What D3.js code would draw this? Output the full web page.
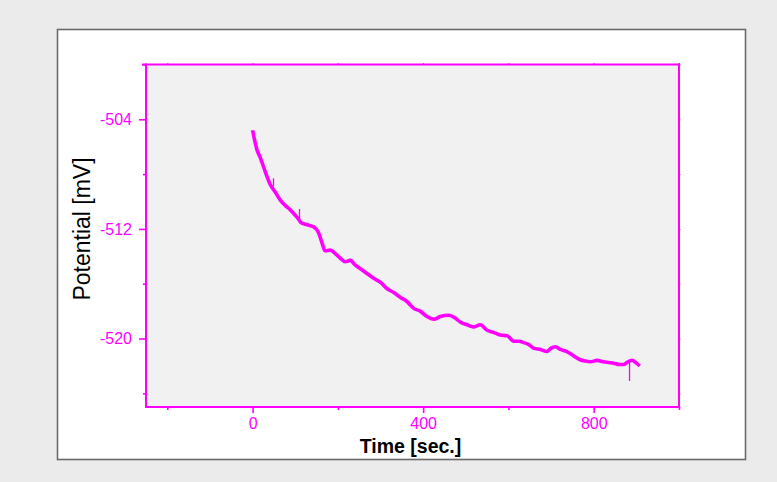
<!DOCTYPE html>
<html>
<head>
<meta charset="utf-8">
<script src="https://cdn.jsdelivr.net/npm/d3@7"></script>
<style>
  html, body { margin: 0; padding: 0; background: #ebebeb; }
  svg { display: block; }
</style>
</head>
<body>
<svg id="chart" width="777" height="482"></svg>
<script>
// Open-circuit potential recording: time (s) vs potential (mV)
const timeSec = [0, 10, 18, 26, 34, 42, 53, 65, 77, 88, 100, 108, 112, 128, 143, 155, 163, 170,
  182, 194, 206, 217, 229, 241, 257, 268, 284, 300, 315, 331, 347, 362, 378, 393, 409, 425,
  440, 460, 475, 487, 503, 518, 534, 550, 565, 581, 597, 612, 625, 636, 648, 659, 675, 690,
  700, 710, 722, 737, 750, 768, 780, 792, 808, 823, 835, 847, 860, 870, 880, 890, 900, 908];
const potentialMV = [-504.8, -506.2, -506.8, -507.5, -508.2, -508.8, -509.3, -509.9, -510.3,
  -510.6, -511.0, -511.3, -511.5, -511.7, -511.85, -512.3, -513.05, -513.6, -513.55, -513.8,
  -514.15, -514.4, -514.3, -514.65, -515.0, -515.25, -515.6, -515.9, -516.35, -516.65, -517.0,
  -517.3, -517.8, -518.0, -518.4, -518.6, -518.4, -518.3, -518.5, -518.8, -519.0, -519.15,
  -519.0, -519.4, -519.55, -519.75, -519.8, -520.2, -520.2, -520.3, -520.45, -520.7, -520.8,
  -520.95, -520.7, -520.6, -520.8, -520.95, -521.2, -521.55, -521.65, -521.7, -521.6, -521.7,
  -521.75, -521.8, -521.9, -521.9, -521.7, -521.6, -521.8, -522.0];

// Short transient spikes in the record: time, start potential, peak potential
const spikeTime = [49, 110, 884];
const spikeFrom = [-508.9, -511.3, -521.7];
const spikeTo = [-508.3, -510.55, -523.1];

// Axis ticks
const xMajorTicks = [0, 400, 800];
const xMinorTicks = [-200, 200, 600, 1000];
const yMajorTicks = [-504, -512, -520];
const yMinorTicks = [-500, -508, -516, -524];

const MAG = "#ff00ff";
const FONT = "Liberation Sans, Arial, sans-serif";
const plainNumber = d => String(d);   // ASCII hyphen for negatives
const svg = d3.select("#chart");

// Page frame
svg.append("rect").attr("x", 0).attr("y", 0).attr("width", 777).attr("height", 482).attr("fill", "#ebebeb");
svg.append("rect").attr("x", 57.5).attr("y", 29.5).attr("width", 688).attr("height", 430)
  .attr("fill", "#ffffff").attr("stroke", "#6a6a6a").attr("stroke-width", 1.6);

const plot = { left: 146, top: 64.5, right: 679, bottom: 407 };

const x = d3.scaleLinear().domain([-250, 1000]).range([plot.left, plot.right]);
const y = d3.scaleLinear().domain([-525, -500]).range([plot.bottom, plot.top]);

svg.append("rect")
  .attr("x", plot.left).attr("y", plot.top)
  .attr("width", plot.right - plot.left).attr("height", plot.bottom - plot.top)
  .attr("fill", "#f1f1f1");

function styleAxis(g, width) {
  g.select(".domain").remove();
  g.selectAll(".tick line").attr("stroke", MAG).attr("stroke-width", width);
  g.selectAll(".tick text").attr("fill", MAG)
    .attr("font-family", FONT).attr("font-size", 16);
}

// Bottom axis: labelled major ticks and short minor ticks
svg.append("g").attr("transform", `translate(0,${plot.bottom})`)
  .call(d3.axisBottom(x).tickValues(xMajorTicks).tickSize(6).tickPadding(5).tickFormat(plainNumber))
  .call(g => styleAxis(g, 1.6));
svg.append("g").attr("transform", `translate(0,${plot.bottom})`)
  .call(d3.axisBottom(x).tickValues(xMinorTicks).tickSize(3).tickFormat(""))
  .call(g => styleAxis(g, 1.6));

// Left axis
svg.append("g").attr("transform", `translate(${plot.left},0)`)
  .call(d3.axisLeft(y).tickValues(yMajorTicks).tickSize(7).tickPadding(7).tickFormat(plainNumber))
  .call(g => styleAxis(g, 1.6));
svg.append("g").attr("transform", `translate(${plot.left},0)`)
  .call(d3.axisLeft(y).tickValues(yMinorTicks).tickSize(3).tickFormat(""))
  .call(g => styleAxis(g, 1.6));

// Top and right axes: tiny outward ticks only
svg.append("g").attr("transform", `translate(0,${plot.top})`)
  .call(d3.axisTop(x).tickValues(xMajorTicks.concat(xMinorTicks)).tickSize(1.5).tickFormat(""))
  .call(g => styleAxis(g, 1));
svg.append("g").attr("transform", `translate(${plot.right},0)`)
  .call(d3.axisRight(y).tickValues(yMajorTicks.concat(yMinorTicks)).tickSize(1.5).tickFormat(""))
  .call(g => styleAxis(g, 1));

// Frame lines of the plot area
const frame = svg.append("g").attr("stroke", MAG).attr("fill", "none");
frame.append("line").attr("x1", plot.left).attr("x2", plot.left).attr("y1", plot.top - 1).attr("y2", plot.bottom + 1).attr("stroke-width", 2);
frame.append("line").attr("x1", plot.left - 1).attr("x2", plot.right + 1).attr("y1", plot.bottom).attr("y2", plot.bottom).attr("stroke-width", 2);
frame.append("line").attr("x1", plot.left - 4).attr("x2", plot.right + 1).attr("y1", plot.top).attr("y2", plot.top).attr("stroke-width", 2);
frame.append("line").attr("x1", plot.right).attr("x2", plot.right).attr("y1", plot.top - 1).attr("y2", plot.bottom + 1).attr("stroke-width", 2);

// Potential trace
const series = timeSec.map((t, i) => ({ t, v: potentialMV[i] }));
const line = d3.line().x(d => x(d.t)).y(d => y(d.v)).curve(d3.curveMonotoneX);
svg.append("path").datum(series)
  .attr("d", line)
  .attr("fill", "none").attr("stroke", MAG)
  .attr("stroke-width", 3.6).attr("stroke-linejoin", "round").attr("stroke-linecap", "butt");

svg.append("g").selectAll("line").data(spikeTime).join("line")
  .attr("x1", d => x(d)).attr("x2", d => x(d))
  .attr("y1", (d, i) => y(spikeFrom[i])).attr("y2", (d, i) => y(spikeTo[i]))
  .attr("stroke", MAG).attr("stroke-width", 1.3);

// Axis titles
svg.append("text")
  .attr("transform", `translate(89.5,229) rotate(-90)`)
  .attr("text-anchor", "middle")
  .attr("font-family", FONT).attr("font-size", 23)
  .attr("fill", "#000").text("Potential [mV]");
svg.append("text")
  .attr("x", 410.5).attr("y", 453)
  .attr("text-anchor", "middle")
  .attr("font-family", FONT).attr("font-size", 19.5)
  .attr("font-weight", "bold")
  .attr("fill", "#000").text("Time [sec.]");
</script>
</body>
</html>
